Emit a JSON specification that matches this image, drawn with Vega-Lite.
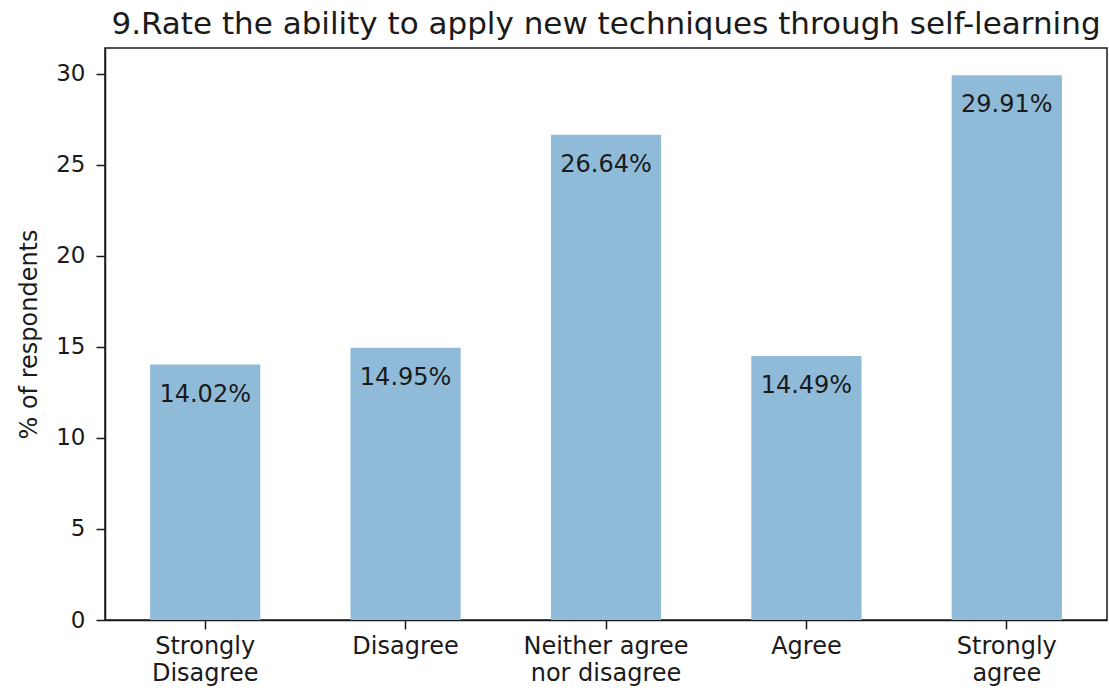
{
  "$schema": "https://vega.github.io/schema/vega-lite/v6.json",
  "width": 1002,
  "height": 572,
  "autosize": {"type": "none"},
  "padding": {"left": 105, "top": 48, "right": 2, "bottom": 76},
  "background": "white",
  "config": {
    "font": "DejaVu Sans",
    "view": {"stroke": "#1a1a1a", "strokeWidth": 1.5},
    "axis": {"grid": false, "domainColor": "#1a1a1a", "tickColor": "#1a1a1a", "labelColor": "#1a1a1a", "titleColor": "#1a1a1a", "labelFont": "DejaVu Sans", "titleFont": "DejaVu Sans", "labelFontSize": 24, "titleFontSize": 24, "titleFontWeight": "normal", "tickSize": 9, "domainWidth": 1.5, "tickWidth": 1.5}
  },
  "title": {"text": "9.Rate the ability to apply new techniques through self-learning", "font": "DejaVu Sans", "fontSize": 31, "fontWeight": "normal", "color": "#1a1a1a", "anchor": "middle", "offset": 7},
  "data": {"values": [
    {"category": "Strongly Disagree", "value": 14.02},
    {"category": "Disagree", "value": 14.95},
    {"category": "Neither agree nor disagree", "value": 26.64},
    {"category": "Agree", "value": 14.49},
    {"category": "Strongly agree", "value": 29.91}
  ]},
  "encoding": {
    "x": {"field": "category", "type": "nominal", "sort": null,
      "scale": {"paddingInner": 0.45, "paddingOuter": 0.225},
      "axis": {"title": null, "labelAngle": 0, "labelPadding": 5, "labelLineHeight": 27, "labelBaseline": "top",
        "labelExpr": "datum.label == 'Strongly Disagree' ? ['Strongly','Disagree'] : datum.label == 'Neither agree nor disagree' ? ['Neither agree','nor disagree'] : datum.label == 'Strongly agree' ? ['Strongly','agree'] : datum.label"}},
    "y": {"field": "value", "type": "quantitative",
      "scale": {"domain": [0, 31.4], "nice": false},
      "axis": {"title": "% of respondents", "values": [0, 5, 10, 15, 20, 25, 30], "labelFontSize": 23, "titlePadding": 14, "labelPadding": 11}}
  },
  "layer": [
    {"mark": {"type": "bar", "color": "#8fbbd9"}},
    {"mark": {"type": "text", "baseline": "middle", "dy": 30, "fontSize": 24, "color": "#1a1a1a", "font": "DejaVu Sans",
      "text": {"expr": "format(datum.value, '.2f') + '%'"}}}
  ]
}
